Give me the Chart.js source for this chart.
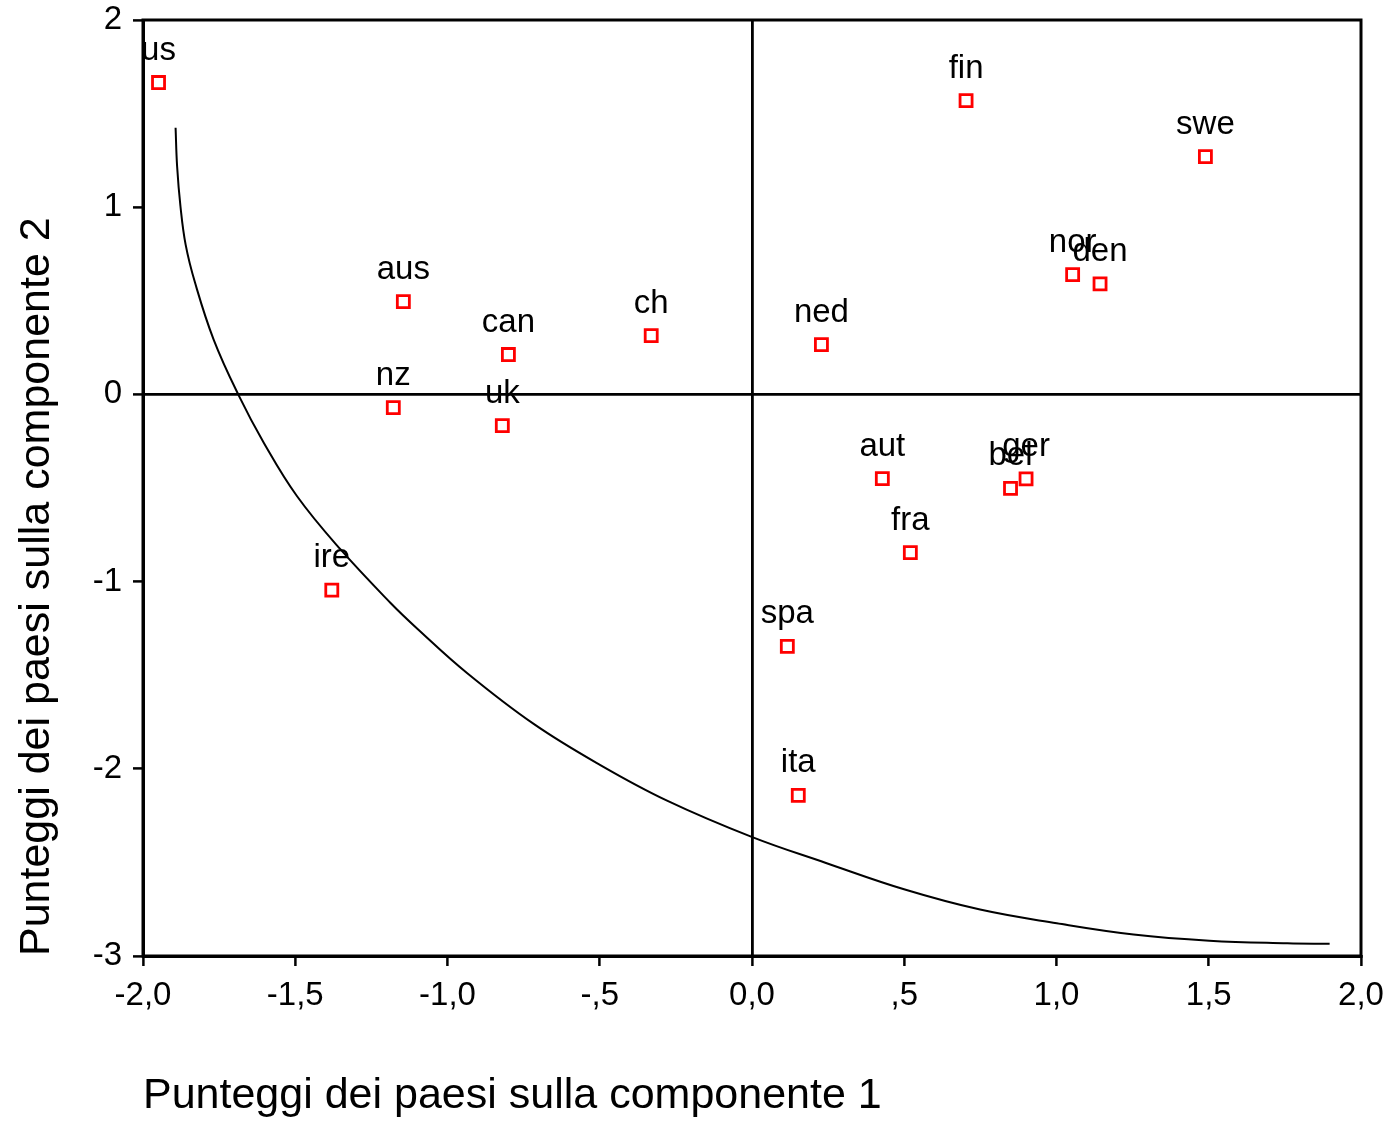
<!DOCTYPE html>
<html>
<head>
<meta charset="utf-8">
<script src="https://cdn.jsdelivr.net/npm/chart.js@4.4.1/dist/chart.umd.min.js"></script>
<style>
    html, body { margin: 0; padding: 0; background: #fff; }
    canvas { display: block; }
</style>
</head>
<body>
<canvas id="pcaScoreChart" width="1386" height="1122"></canvas>
<script>
// country codes and their scores on the two components
const countries = ['us', 'fin', 'swe', 'nor', 'den', 'aus', 'can', 'ch', 'ned', 'nz', 'uk', 'aut', 'ger', 'bel', 'fra', 'ire', 'spa', 'ita'];
const comp1 = [-1.949, 0.703, 1.489, 1.053, 1.143, -1.145, -0.800, -0.331, 0.228, -1.178, -0.820, 0.428, 0.900, 0.849, 0.520, -1.380, 0.116, 0.152];
const comp2 = [1.666, 1.569, 1.270, 0.640, 0.590, 0.496, 0.213, 0.314, 0.266, -0.071, -0.167, -0.450, -0.451, -0.502, -0.845, -1.046, -1.346, -2.142];

// the hand drawn curve
const curveX = [-1.893, -1.888, -1.877, -1.860, -1.829, -1.768, -1.687, -1.603, -1.494, -1.352, -1.187, -1.100, -0.936, -0.717, -0.498, -0.279, 0.001, 0.243, 0.502, 0.749, 1.001, 1.253, 1.502, 1.758, 1.897];
const curveY = [1.424, 1.219, 1.005, 0.800, 0.596, 0.293, -0.001, -0.259, -0.544, -0.827, -1.114, -1.250, -1.488, -1.760, -1.980, -2.170, -2.365, -2.503, -2.645, -2.752, -2.825, -2.885, -2.918, -2.932, -2.935];

const xTickLabels = ['-2,0', '-1,5', '-1,0', '-,5', '0,0', ',5', '1,0', '1,5', '2,0'];
const yTickLabels = ['-3', '-2', '-1', '0', '1', '2'];

const FONT = '"Liberation Sans", Arial, sans-serif';

// frame around the plot + country names above the markers
const labelPlugin = {
    id: 'labelPlugin',
    afterDatasetsDraw(chart) {
        const { ctx, chartArea } = chart;
        ctx.save();
        ctx.strokeStyle = '#000';
        ctx.lineWidth = 3;
        ctx.strokeRect(chartArea.left, chartArea.top, chartArea.right - chartArea.left, chartArea.bottom - chartArea.top);

        const meta = chart.getDatasetMeta(0);
        ctx.font = '33px ' + FONT;
        ctx.fillStyle = '#000';
        ctx.textAlign = 'center';
        ctx.textBaseline = 'alphabetic';
        meta.data.forEach((pt, i) => {
            ctx.fillText(countries[i], pt.x, pt.y - 23);
        });
        ctx.restore();
    }
};

const zeroLine = (c) => (c.tick && c.tick.value === 0 ? '#000' : 'rgba(0,0,0,0)');

const ctx = document.getElementById('pcaScoreChart').getContext('2d');
new Chart(ctx, {
    type: 'scatter',
    data: {
        datasets: [
            {
                label: 'paesi',
                data: comp1.map((x, i) => ({ x: x, y: comp2[i] })),
                pointStyle: 'rect',
                pointRadius: 8.5,
                pointHoverRadius: 8.5,
                borderColor: '#ff0000',
                backgroundColor: '#ffffff',
                borderWidth: 2.8
            },
            {
                label: 'curva',
                data: curveX.map((x, i) => ({ x: x, y: curveY[i] })),
                showLine: true,
                pointRadius: 0,
                borderColor: '#000',
                borderWidth: 2,
                tension: 0.4,
                fill: false
            }
        ]
    },
    options: {
        responsive: false,
        animation: false,
        layout: { padding: { left: 0, top: 20, right: 25, bottom: 0 } },
        plugins: {
            legend: { display: false },
            tooltip: { enabled: false }
        },
        scales: {
            x: {
                type: 'linear',
                min: -2,
                max: 2,
                border: { color: '#000', width: 3 },
                grid: { color: zeroLine, lineWidth: 2.8, tickColor: '#000', tickWidth: 2.5, tickLength: 10 },
                ticks: {
                    stepSize: 0.5,
                    padding: 10,
                    color: '#000',
                    font: { family: FONT, size: 33 },
                    maxRotation: 0,
                    callback: (v, i) => xTickLabels[i]
                },
                title: {
                    display: true,
                    text: 'Punteggi dei paesi sulla componente 1',
                    align: 'start',
                    color: '#000',
                    font: { family: FONT, size: 43 },
                    padding: { top: 0, bottom: 0 }
                },
                afterFit: (s) => {
                    s.height = 166;
                    s.paddingLeft = 0;
                    s.paddingRight = 0;
                }
            },
            y: {
                type: 'linear',
                min: -3,
                max: 2,
                border: { color: '#000', width: 3 },
                grid: { color: zeroLine, lineWidth: 2.8, tickColor: '#000', tickWidth: 2.5, tickLength: 10 },
                ticks: {
                    stepSize: 1,
                    padding: 11,
                    color: '#000',
                    font: { family: FONT, size: 33 },
                    callback: (v, i) => yTickLabels[i]
                },
                title: {
                    display: true,
                    text: 'Punteggi dei paesi sulla componente 2',
                    align: 'start',
                    color: '#000',
                    font: { family: FONT, size: 43 },
                    padding: { top: 11, bottom: 0 }
                },
                afterFit: (s) => {
                    s.width = 143;
                    s.paddingTop = 0;
                    s.paddingBottom = 0;
                }
            }
        }
    },
    plugins: [labelPlugin]
});
</script>
</body>
</html>
